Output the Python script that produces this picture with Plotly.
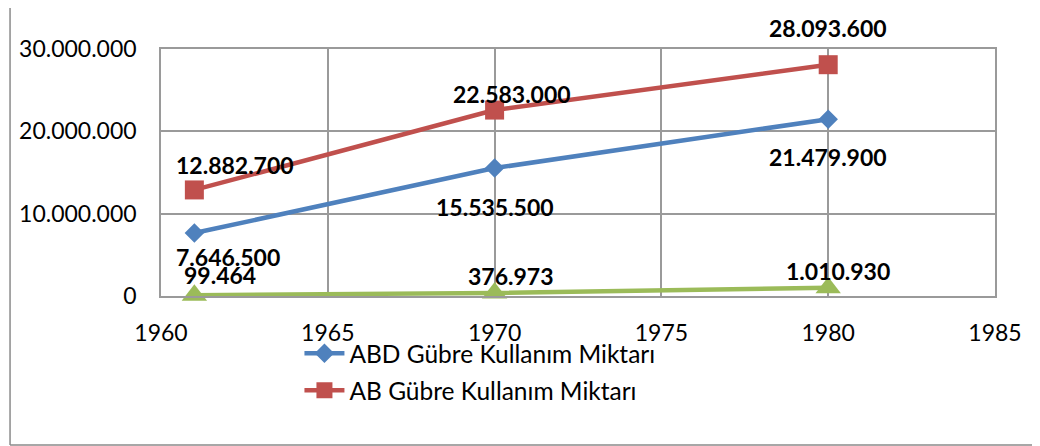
import plotly.graph_objects as go

years = [1961, 1970, 1980]
abd = [7646500, 15535500, 21479900]
ab = [12882700, 22583000, 28093600]
tr = [99464, 376973, 1010930]

names = ['ABD Gübre Kullanım Miktarı', 'AB Gübre Kullanım Miktarı', 'Türkiye Gübre Kullanım Miktarı']
colors = ['#4F81BD', '#C0504D', '#9BBB59']

# label offsets in px (dx, dy), placed by hand like the original
offsets = [
    [(34, 24), (0, 39), (0, 38)],
    [(41, -25), (17, -16), (0, -37)],
    [(26, -20), (16, -17), (10, -17)],
]

font = 'Lato'
fig = go.Figure()

fig.add_trace(go.Scatter(x = years, y = abd, name = names[0], mode = 'lines+markers',
                         line = dict(color = colors[0], width = 4.5),
                         marker = dict(symbol = 'diamond', size = 15, color = colors[0]),
                         cliponaxis = False, legend = 'legend'))
fig.add_trace(go.Scatter(x = years, y = ab, name = names[1], mode = 'lines+markers',
                         line = dict(color = colors[1], width = 4.5),
                         marker = dict(symbol = 'square', size = 19, color = colors[1]),
                         cliponaxis = False, legend = 'legend2'))
fig.add_trace(go.Scatter(x = years, y = tr, name = names[2], mode = 'lines+markers',
                         line = dict(color = colors[2], width = 4.5),
                         marker = dict(symbol = 'triangle-up', size = 22, color = colors[2]),
                         cliponaxis = False, showlegend = False))

for series, offs in zip([abd, ab, tr], offsets):
    for x, y, (dx, dy) in zip(years, series, offs):
        fig.add_annotation(x = x, y = y, text = f"<b>{y:,}</b>".replace(',', '.'),
                           showarrow = False, xshift = dx, yshift = -dy,
                           font = dict(family = font, size = 23, color = 'black'))

axis_style = dict(showgrid = True, gridcolor = '#9a9a9a', gridwidth = 1.5,
                  showline = True, linecolor = '#9a9a9a', linewidth = 1.5, mirror = True,
                  zeroline = False, ticks = '',
                  tickfont = dict(family = font, size = 23, color = 'black'))

fig.update_xaxes(range = [1960, 1985], dtick = 5, tick0 = 1960, ticklabelstandoff = 16, **axis_style)
fig.update_yaxes(range = [0, 30000000], dtick = 10000000, tickformat = ',d',
                 ticklabelstandoff = 18, **axis_style)

legend_style = dict(font = dict(family = font, size = 24.5, color = 'black'),
                    bgcolor = 'rgba(0,0,0,0)', xanchor = 'left', yanchor = 'middle',
                    itemwidth = 40)

# outer chart frame (left, bottom, right edges)
frame = dict(type = 'line', xref = 'paper', yref = 'paper', line = dict(color = '#8a8a8a', width = 1.5))

# page body has an 8px margin, so the figure is 8px smaller and shifted
fig.update_layout(
    width = 1032, height = 438,
    margin = dict(l = 153, r = 45, t = 41, b = 150),
    paper_bgcolor = 'white', plot_bgcolor = 'white',
    separators = ',.',
    legend = dict(x = 0.166, y = -0.232, **legend_style),
    legend2 = dict(x = 0.166, y = -0.382, **legend_style),
    shapes = [dict(frame, x0 = -0.181, x1 = -0.181, y0 = -0.603, y1 = 1.2),
              dict(frame, x0 = -0.181, x1 = 1.049, y0 = -0.603, y1 = -0.603),
              dict(frame, x0 = 1.049, x1 = 1.049, y0 = -0.603, y1 = 1.2)]
)

fig.write_html("out.html")
